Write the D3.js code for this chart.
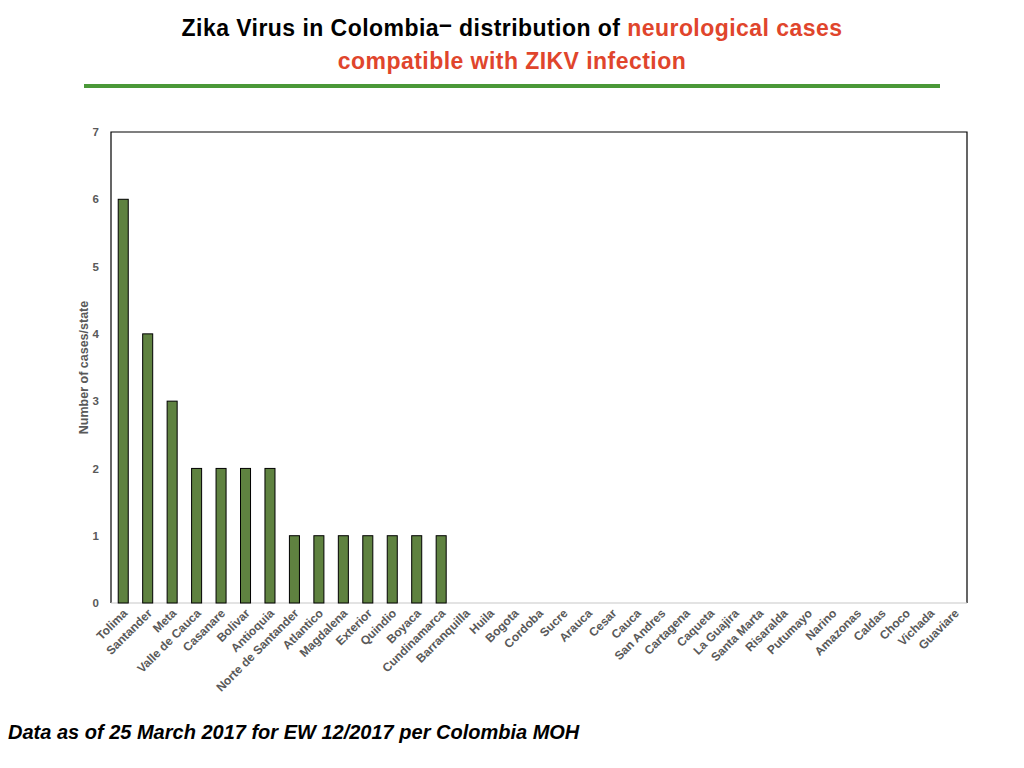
<!DOCTYPE html>
<html>
<head>
<meta charset="utf-8">
<script src="https://cdn.jsdelivr.net/npm/d3@7"></script>
<style>
  body { margin: 0; background: #fff; }
  text { font-family: "Liberation Sans", Arial, sans-serif; }
</style>
</head>
<body>
<div id="chart"></div>
<script>
var states = ["Tolima", "Santander", "Meta", "Valle de Cauca", "Casanare", "Bolivar", "Antioquia",
  "Norte de Santander", "Atlantico", "Magdalena", "Exterior", "Quindio", "Boyaca", "Cundinamarca",
  "Barranquilla", "Huila", "Bogota", "Cordoba", "Sucre", "Arauca", "Cesar", "Cauca", "San Andres",
  "Cartagena", "Caqueta", "La Guajira", "Santa Marta", "Risaralda", "Putumayo", "Narino", "Amazonas",
  "Caldas", "Choco", "Vichada", "Guaviare"];
var cases = [6, 4, 3, 2, 2, 2, 2, 1, 1, 1, 1, 1, 1, 1,
  0, 0, 0, 0, 0, 0, 0, 0, 0, 0, 0, 0, 0, 0, 0, 0, 0, 0, 0, 0, 0];
var yTicks = [0, 1, 2, 3, 4, 5, 6, 7];

var W = 1024, H = 768;
var margin = {top: 132, right: 57, bottom: 165, left: 111},
    width = W - margin.left - margin.right,
    height = H - margin.top - margin.bottom;

var svg = d3.select("#chart").append("svg")
    .attr("width", W)
    .attr("height", H);

// title
var title = svg.append("text")
    .attr("text-anchor", "middle")
    .attr("font-weight", "bold")
    .attr("font-size", 23)
    .attr("letter-spacing", 0.45);
var l1 = title.append("tspan").attr("x", 512).attr("y", 36);
l1.append("tspan").attr("fill", "#000").text("Zika Virus in Colombia");
l1.append("tspan").attr("fill", "#000").attr("dy", -4).text("\u2013 ");
l1.append("tspan").attr("fill", "#000").attr("dy", 4).text("distribution of ");
l1.append("tspan").attr("fill", "#e0452c").text("neurological cases");
title.append("tspan").attr("x", 512).attr("y", 69)
    .attr("fill", "#e0452c").text("compatible with ZIKV infection");

svg.append("line")
    .attr("x1", 84).attr("x2", 940)
    .attr("y1", 86).attr("y2", 86)
    .attr("stroke", "#4a9838").attr("stroke-width", 4);

var g = svg.append("g")
    .attr("transform", "translate(" + margin.left + "," + margin.top + ")");

var x = d3.scaleBand()
    .domain(states)
    .range([0, width])
    .paddingInner(0.59)
    .paddingOuter(0.295);
var y = d3.scaleLinear()
    .domain([0, 7])
    .range([height, 0]);

// frame: black left/top/right, gray baseline
g.append("path")
    .attr("d", "M0," + height + "V0H" + width + "V" + height)
    .attr("fill", "none").attr("stroke", "#000").attr("stroke-width", 1.2);
g.append("line")
    .attr("x1", 0).attr("x2", width)
    .attr("y1", height).attr("y2", height)
    .attr("stroke", "#c8c8c8").attr("stroke-width", 1.2);

g.selectAll(".bar")
    .data(states.map(function(s, i) { return {state: s, count: cases[i]}; }).filter(function(d) { return d.count > 0; }))
  .enter().append("rect")
    .attr("class", "bar")
    .attr("x", function(d) { return x(d.state); })
    .attr("width", x.bandwidth())
    .attr("y", function(d) { return y(d.count); })
    .attr("height", function(d) { return height - y(d.count); })
    .attr("fill", "#5f8240")
    .attr("stroke", "#000")
    .attr("stroke-width", 1);

var yAxis = d3.axisLeft(y).tickValues(yTicks).tickSize(0).tickPadding(12).tickFormat(d3.format("d"));
var ya = g.append("g").call(yAxis);
ya.select(".domain").remove();
ya.selectAll("text")
    .attr("font-family", "Liberation Sans, Arial, sans-serif")
    .attr("font-size", 11.5).attr("font-weight", "bold").attr("fill", "#595959");

var xAxis = d3.axisBottom(x).tickSize(0).tickPadding(0);
var xa = g.append("g").attr("transform", "translate(0," + height + ")").call(xAxis);
xa.select(".domain").remove();
xa.selectAll("text")
    .attr("font-family", "Liberation Sans, Arial, sans-serif")
    .attr("font-size", 12).attr("font-weight", "bold").attr("fill", "#595959")
    .attr("text-anchor", "end")
    .attr("dy", 0)
    .attr("transform", "translate(5,11) rotate(-45)");

svg.append("text")
    .attr("transform", "translate(88," + (margin.top + height / 2) + ") rotate(-90)")
    .attr("text-anchor", "middle")
    .attr("font-size", 12.5).attr("font-weight", "bold").attr("fill", "#595959")
    .text("Number of cases/state");

svg.append("text")
    .attr("x", 8).attr("y", 739)
    .attr("font-size", 20).attr("font-weight", "bold").attr("font-style", "italic")
    .attr("fill", "#000")
    .text("Data as of 25 March 2017 for EW 12/2017 per Colombia MOH");
</script>
</body>
</html>
